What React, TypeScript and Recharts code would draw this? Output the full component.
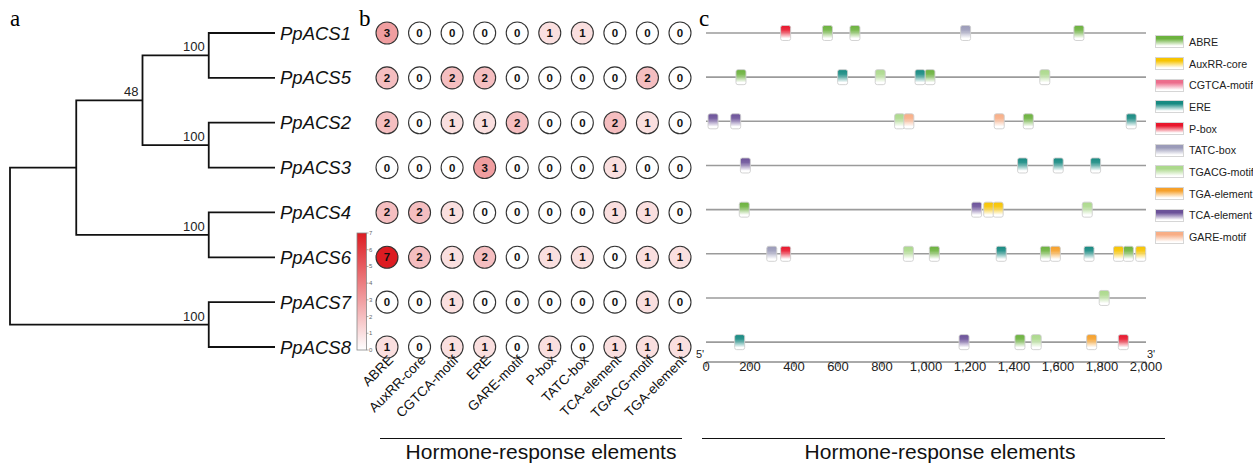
import React from 'react';
import { ComposedChart, Line, Scatter, XAxis, YAxis, ReferenceLine } from 'recharts';

const FONT = '"Liberation Sans", Arial, Helvetica, sans-serif';
const SERIF = '"Liberation Serif", "Times New Roman", serif';

// ---------- data ----------
const GENES = ['PpACS1', 'PpACS5', 'PpACS2', 'PpACS3', 'PpACS4', 'PpACS6', 'PpACS7', 'PpACS8'];

// phylogenetic tree (depth = distance level from root, leaves at LEAF_DEPTH)
const LEAF_DEPTH = 4;
const TREE_CLADES = [
  { name: 'c15', depth: 3, children: ['PpACS1', 'PpACS5'], support: 100 },
  { name: 'c23', depth: 3, children: ['PpACS2', 'PpACS3'], support: 100 },
  { name: 'c1523', depth: 2, children: ['c15', 'c23'], support: 48 },
  { name: 'c46', depth: 3, children: ['PpACS4', 'PpACS6'], support: 100 },
  { name: 'cA', depth: 1, children: ['c1523', 'c46'], support: null },
  { name: 'c78', depth: 3, children: ['PpACS7', 'PpACS8'], support: 100 },
  { name: 'root', depth: 0, children: ['cA', 'c78'], support: null },
];

// panel b: element counts
const COLUMNS = ['ABRE', 'AuxRR-core', 'CGTCA-motif', 'ERE', 'GARE-motif', 'P-box', 'TATC-box', 'TCA-element', 'TGACG-motif', 'TGA-element'];
const COUNTS_PpACS1 = [3, 0, 0, 0, 0, 1, 1, 0, 0, 0];
const COUNTS_PpACS5 = [2, 0, 2, 2, 0, 0, 0, 0, 2, 0];
const COUNTS_PpACS2 = [2, 0, 1, 1, 2, 0, 0, 2, 1, 0];
const COUNTS_PpACS3 = [0, 0, 0, 3, 0, 0, 0, 1, 0, 0];
const COUNTS_PpACS4 = [2, 2, 1, 0, 0, 0, 0, 1, 1, 0];
const COUNTS_PpACS6 = [7, 2, 1, 2, 0, 1, 1, 0, 1, 1];
const COUNTS_PpACS7 = [0, 0, 1, 0, 0, 0, 0, 0, 1, 0];
const COUNTS_PpACS8 = [1, 0, 1, 1, 0, 1, 0, 1, 1, 1];
const COUNTS = [COUNTS_PpACS1, COUNTS_PpACS5, COUNTS_PpACS2, COUNTS_PpACS3, COUNTS_PpACS4, COUNTS_PpACS6, COUNTS_PpACS7, COUNTS_PpACS8];
const COLORBAR_TICKS = [0, 1, 2, 3, 4, 5, 6, 7];

// panel c: element positions (bp)
const SITES_PpACS1: [string, number][] = [['P-box', 362], ['ABRE', 552], ['ABRE', 677], ['TATC-box', 1180], ['ABRE', 1695]];
const SITES_PpACS5: [string, number][] = [['ABRE', 159], ['ERE', 621], ['TGACG-motif', 792], ['ERE', 973], ['ABRE', 1018], ['TGACG-motif', 1540]];
const SITES_PpACS2: [string, number][] = [['TCA-element', 32], ['TCA-element', 135], ['TGACG-motif', 880], ['GARE-motif', 922], ['GARE-motif', 1333], ['ABRE', 1465], ['ERE', 1933]];
const SITES_PpACS3: [string, number][] = [['TCA-element', 179], ['ERE', 1439], ['ERE', 1601], ['ERE', 1771]];
const SITES_PpACS4: [string, number][] = [['ABRE', 174], ['TCA-element', 1230], ['AuxRR-core', 1285], ['AuxRR-core', 1328], ['TGACG-motif', 1733]];
const SITES_PpACS6: [string, number][] = [['TATC-box', 299], ['P-box', 362], ['TGACG-motif', 920], ['ABRE', 1038], ['ERE', 1342], ['ABRE', 1543], ['TGA-element', 1588], ['ERE', 1741], ['AuxRR-core', 1875], ['ABRE', 1920], ['AuxRR-core', 1976]];
const SITES_PpACS7: [string, number][] = [['TGACG-motif', 1810]];
const SITES_PpACS8: [string, number][] = [['ERE', 153], ['TCA-element', 1173], ['ABRE', 1427], ['TGACG-motif', 1501], ['TGA-element', 1753], ['P-box', 1897]];
const SITES = [SITES_PpACS1, SITES_PpACS5, SITES_PpACS2, SITES_PpACS3, SITES_PpACS4, SITES_PpACS6, SITES_PpACS7, SITES_PpACS8];
const POS_TICKS = [0, 200, 400, 600, 800, 1000, 1200, 1400, 1600, 1800, 2000];

const LEGEND_TYPES = ['ABRE', 'AuxRR-core', 'CGTCA-motif', 'ERE', 'P-box', 'TATC-box', 'TGACG-motif', 'TGA-element', 'TCA-element', 'GARE-motif'];
const TYPE_COLORS = ['#6cb23e', '#f7c400', '#ec6d8c', '#178a82', '#e8162c', '#9b9bb9', '#acd98c', '#f6a02a', '#6b5199', '#f8ae86'];

// ---------- derived ----------
const nodePos: Record<string, { x: number; y: number }> = {};
GENES.forEach((g, i) => (nodePos[g] = { x: LEAF_DEPTH, y: i }));
TREE_CLADES.forEach((c) => {
  const a = nodePos[c.children[0]];
  const b = nodePos[c.children[1]];
  nodePos[c.name] = { x: c.depth, y: (a.y + b.y) / 2 };
});
const treeBrackets = TREE_CLADES.map((c) => {
  const a = nodePos[c.children[0]];
  const b = nodePos[c.children[1]];
  return [
    { x: a.x, y: a.y },
    { x: c.depth, y: a.y },
    { x: c.depth, y: b.y },
    { x: b.x, y: b.y },
  ];
});
const supportData = TREE_CLADES.filter((c) => c.support !== null).map((c) => ({
  x: nodePos[c.name].x,
  y: nodePos[c.name].y,
  label: String(c.support),
}));

const bubbleData: { col: number; row: number; value: number }[] = [];
COUNTS.forEach((rowVals, r) => rowVals.forEach((v, c) => bubbleData.push({ col: c, row: r, value: v })));

const sitesByType = LEGEND_TYPES.map((t) => {
  const arr: { pos: number; row: number }[] = [];
  SITES.forEach((s, r) => s.forEach(([type, pos]) => { if (type === t) arr.push({ pos, row: r }); }));
  return arr;
});

const bubbleColor = (v: number) => {
  const t = v / 7;
  const r = Math.round(255 + (221 - 255) * t);
  const g = Math.round(255 + (28 - 255) * t);
  const b = Math.round(255 + (34 - 255) * t);
  return `rgb(${r},${g},${b})`;
};

// ---------- shapes ----------
const SupportLabel = (props: any) => {
  const { cx, cy, payload } = props;
  return (
    <text x={cx - 4} y={cy - 4} textAnchor="end" fontSize={13} fill="#222" fontFamily={FONT}>
      {payload.label}
    </text>
  );
};

const BubbleShape = (props: any) => {
  const { cx, cy, payload } = props;
  return (
    <g>
      <circle cx={cx} cy={cy} r={11} fill={bubbleColor(payload.value)} stroke="#333" strokeWidth={1.1} />
      <text x={cx} y={cy + 4} textAnchor="middle" fontSize={11.5} fontWeight="bold" fill="#111" fontFamily={FONT}>
        {payload.value}
      </text>
    </g>
  );
};

const ColTick = (props: any) => {
  const { x, y, payload } = props;
  const tx = x + 7;
  const ty = y + 14;
  return (
    <text x={tx} y={ty} transform={`rotate(-45 ${tx} ${ty})`} textAnchor="end" fontSize={13.5} fill="#111" fontFamily={FONT}>
      {COLUMNS[payload.value]}
    </text>
  );
};

const PosTick = (props: any) => {
  const { x, y, payload } = props;
  return (
    <text x={x} y={y + 4} textAnchor="middle" fontSize={13} fill="#222" fontFamily={FONT}>
      {Number(payload.value).toLocaleString('en-US')}
    </text>
  );
};

const makeSiteShape = (gid: string) => (props: any) => {
  const { cx, cy } = props;
  return <rect x={cx - 5} y={cy - 7.5} width={10} height={15} rx={2} fill={`url(#${gid})`} stroke="#cfcfcf" strokeWidth={0.9} />;
};

const gradStops = (color: string) => [
  <stop key="a" offset="0%" stopColor={color} />,
  <stop key="b" offset="30%" stopColor={color} stopOpacity={0.9} />,
  <stop key="c" offset="85%" stopColor="#ffffff" />,
];

// ---------- app ----------
export default function App() {
  const abs = (l: number, t: number): React.CSSProperties => ({ position: 'absolute', left: l, top: t });
  return (
    <div style={{ position: 'absolute', left: 0, top: 0, width: 1253, height: 464, background: '#fff', fontFamily: FONT, overflow: 'hidden' }}>
      {/* panel letters */}
      <div style={{ ...abs(10, 4), fontFamily: SERIF, fontSize: 23, lineHeight: '30px' }}>a</div>
      <div style={{ ...abs(359, 4), fontFamily: SERIF, fontSize: 23, lineHeight: '30px' }}>b</div>
      <div style={{ ...abs(699, 4), fontFamily: SERIF, fontSize: 23, lineHeight: '30px' }}>c</div>

      {/* panel a: tree */}
      <div style={abs(0, 0)}>
        <ComposedChart width={360} height={464} margin={{ top: 33, right: 0, bottom: 117, left: 10 }}>
          <XAxis type="number" dataKey="x" domain={[0, LEAF_DEPTH]} hide />
          <YAxis
            type="number"
            dataKey="y"
            domain={[0, GENES.length - 1]}
            reversed
            orientation="right"
            width={85}
            ticks={GENES.map((_, i) => i)}
            interval={0}
            tickFormatter={(v: number) => GENES[v]}
            axisLine={false}
            tickLine={false}
            tickSize={0}
            tickMargin={5}
            tick={{ fontSize: 18.5, fontStyle: 'italic', fill: '#111', fontFamily: FONT }}
          />
          {treeBrackets.map((pts, i) => (
            <Line key={i} data={pts} dataKey="y" type="linear" dot={false} activeDot={false} stroke="#111" strokeWidth={1.8} isAnimationActive={false} />
          ))}
          <Scatter data={supportData} shape={SupportLabel} isAnimationActive={false} />
        </ComposedChart>
      </div>

      {/* panel b: bubble matrix */}
      <div style={abs(340, 0)}>
        <ComposedChart width={360} height={464} margin={{ top: 33, right: 20, bottom: 87, left: 47 }}>
          <XAxis
            type="number"
            dataKey="col"
            domain={[0, COLUMNS.length - 1]}
            ticks={COLUMNS.map((_, i) => i)}
            interval={0}
            axisLine={false}
            tickLine={false}
            tickSize={0}
            tickMargin={0}
            height={30}
            tick={(p: any) => <ColTick {...p} />}
          />
          <YAxis type="number" dataKey="row" domain={[0, GENES.length - 1]} reversed hide />
          <Scatter data={bubbleData} shape={BubbleShape} isAnimationActive={false} />
        </ComposedChart>
      </div>

      {/* colour bar */}
      <svg style={abs(352, 228)} width={24} height={128}>
        <defs>
          <linearGradient id="cbar" x1="0" y1="0" x2="0" y2="1">
            <stop offset="0%" stopColor="rgb(221,28,34)" />
            <stop offset="100%" stopColor="#ffffff" />
          </linearGradient>
        </defs>
        <rect x={5} y={5} width={9.5} height={117} fill="url(#cbar)" stroke="#888" strokeWidth={0.8} />
        {COLORBAR_TICKS.map((t) => {
          const yy = 122 - (t / 7) * 117;
          return (
            <g key={t}>
              <line x1={14.5} x2={16.5} y1={yy} y2={yy} stroke="#777" strokeWidth={0.6} />
              <text x={17} y={yy + 2} fontSize={6} fill="#666" fontFamily={FONT}>{t}</text>
            </g>
          );
        })}
      </svg>

      {/* panel c: element positions */}
      <div style={abs(690, 0)}>
        <ComposedChart width={500} height={464} margin={{ top: 33, right: 44, bottom: 72, left: 16 }}>
          <defs>
            {TYPE_COLORS.map((c, i) => (
              <linearGradient key={i} id={`site-${i}`} x1="0" y1="0" x2="0" y2="1">
                {gradStops(c)}
              </linearGradient>
            ))}
          </defs>
          <XAxis
            type="number"
            dataKey="pos"
            domain={[0, 2000]}
            ticks={POS_TICKS}
            interval={0}
            height={30}
            tickSize={5}
            tickMargin={0}
            axisLine={{ stroke: '#555', strokeWidth: 1 }}
            tickLine={{ stroke: '#555', strokeWidth: 1 }}
            tick={(p: any) => <PosTick {...p} />}
          />
          <YAxis type="number" dataKey="row" domain={[0, 7.45]} reversed hide />
          {GENES.map((g, i) => (
            <ReferenceLine key={g} y={i} stroke="#9b9b9b" strokeWidth={1.6} ifOverflow="visible" />
          ))}
          {LEGEND_TYPES.map((t, i) => (
            <Scatter key={t} name={t} data={sitesByType[i]} shape={makeSiteShape(`site-${i}`)} isAnimationActive={false} />
          ))}
        </ComposedChart>
      </div>

      <div style={{ ...abs(696, 348), fontSize: 11, color: '#222' }}>5'</div>
      <div style={{ ...abs(1147, 348), fontSize: 11, color: '#222' }}>3'</div>

      {/* legend */}
      <div style={abs(1155, 31)}>
        {LEGEND_TYPES.map((t, i) => (
          <div key={t} style={{ display: 'flex', alignItems: 'center', height: 21.7 }}>
            <div
              style={{
                width: 29,
                height: 13,
                flex: '0 0 auto',
                boxSizing: 'border-box',
                border: '1px solid #d6d6d6',
                background: `linear-gradient(to bottom, ${TYPE_COLORS[i]} 0%, ${TYPE_COLORS[i]} 25%, #ffffff 90%)`,
              }}
            />
            <span style={{ marginLeft: 5, fontSize: 10.7, color: '#222', whiteSpace: 'nowrap' }}>{t}</span>
          </div>
        ))}
      </div>

      {/* section titles */}
      <div style={{ ...abs(380, 438), width: 302, height: 0, borderTop: '1.5px solid #111' }} />
      <div style={{ ...abs(380, 440), width: 322, textAlign: 'center', fontSize: 21, color: '#111' }}>Hormone-response elements</div>
      <div style={{ ...abs(702, 438), width: 463, height: 0, borderTop: '1.5px solid #111' }} />
      <div style={{ ...abs(702, 440), width: 476, textAlign: 'center', fontSize: 21, color: '#111' }}>Hormone-response elements</div>
    </div>
  );
}
